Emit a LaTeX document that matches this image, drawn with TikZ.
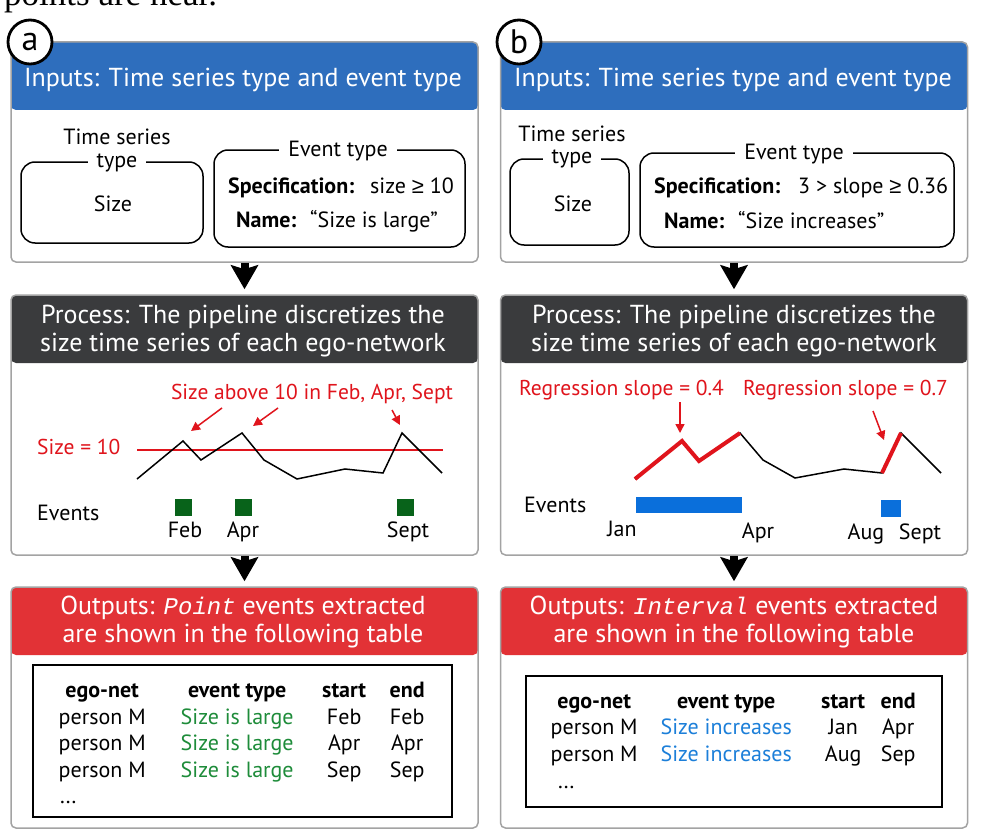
\documentclass[tikz,border=0pt]{standalone}
\usepackage{fontspec,array}
\setmainfont{PT Sans}
\setmonofont{Liberation Mono}
\newfontfamily\symfont{Liberation Sans}
\newfontfamily\paperfont{Liberation Serif}
\usetikzlibrary{arrows.meta}
\definecolor{headBlue}{HTML}{2E6EBD}
\definecolor{headDark}{HTML}{3A3B3D}
\definecolor{headRed}{HTML}{E23236}
\definecolor{panelGray}{HTML}{A3A3A3}
\definecolor{markRed}{HTML}{E0141C}
\definecolor{evGreen}{HTML}{08631A}
\definecolor{txtGreen}{HTML}{1E8C3A}
\definecolor{evBlue}{HTML}{0A6FDB}
\definecolor{txtBlue}{HTML}{1C7FD9}
\tikzset{
    panel/.style={draw=panelGray,fill=white,line width=1.5pt,rounded corners=5pt,
        minimum width=467pt,inner sep=0pt},
    headed/.style={panel,path picture={\fill[#1] (path picture bounding box.north west)
        rectangle ([yshift=-68pt]path picture bounding box.north east);}},
    headtext/.style={text=white,align=center,inner sep=0pt,
        font=\fontsize{26}{28}\selectfont},
    tag/.style={circle,draw=black,fill=white,line width=2.8pt,minimum size=44pt,
        inner sep=0pt,font=\fontsize{34}{34}\selectfont},
    field/.style={draw=black,line width=1.5pt,rounded corners=14pt,inner sep=0pt},
    txt/.style={inner sep=0pt,font=\fontsize{22}{26.8}\selectfont},
    fieldtitle/.style={txt,fill=white,inner xsep=9pt,inner ysep=2pt},
    redtxt/.style={txt,text=markRed,font=\fontsize{21.5}{26}\selectfont},
    stepdown/.style={line width=8pt,-{Stealth[length=24pt,width=27pt,inset=4pt]},
        shorten >=5pt},
    redarrow/.style={draw=markRed,line width=1.5pt,-{Triangle[length=9pt,width=9pt]}},
    series/.style={draw=black,line width=1.5pt},
    redseries/.style={draw=markRed,line width=4pt},
    evsq/.style={inner sep=0pt,minimum width=17pt,minimum height=17pt},
    tabbox/.style={draw=black,line width=1.5pt,inner sep=0pt}
}

\begin{document}
\begin{tikzpicture}[x=1pt,y=-1pt]
    \path[use as bounding box,fill=white] (0,0) rectangle (982,832);
    \node[anchor=base west,inner sep=0pt,font=\paperfont\fontsize{35}{35}\selectfont]
        (paperline) at (4,6) {points are near.};

    % 三行面板：输入、处理、输出
    \node[headed=headBlue,minimum height=220pt] (inA) at (244.5,152) {};
    \node[headed=headBlue,minimum height=220pt] (inB) at (734,152) {};
    \node[headed=headDark,minimum height=260pt] (procA) at (244.5,425) {};
    \node[headed=headDark,minimum height=260pt] (procB) at (734,425) {};
    \node[headed=headRed,minimum height=241pt] (outA) at (244.5,707.5) {};
    \node[headed=headRed,minimum height=241pt] (outB) at (734,707.5) {};

    \draw[stepdown] (inA.south) -- (procA.north);
    \draw[stepdown] (procA.south) -- (outA.north);
    \draw[stepdown] (inB.south) -- (procB.north);
    \draw[stepdown] (procB.south) -- (outB.north);

    \node[tag] (tagA) at (30,42) {a};
    \node[tag] (tagB) at (519,42) {b};

    % (a) 输入
    \node[headtext,anchor=base] (inAhead) at (243,87) {Inputs: Time series type and event type};
    \node[field,minimum width=182pt,minimum height=81pt] (tsA) at (112,202.5) {};
    \node[txt,anchor=base] (tsAtitle) at (117,144) {Time series};
    \node[fieldtitle,anchor=base] (tsAtype) at (117,167) {type};
    \node[txt,anchor=base] (tsAval) at (113,211) {Size};
    \node[field,minimum width=251pt,minimum height=97pt] (evA) at (339.5,198.5) {};
    \node[fieldtitle,anchor=base] (evAtitle) at (338,156) {Event type};
    \node[txt,anchor=base west] (specA) at (228,193) {\bfseries Specification:};
    \node[txt,anchor=base west] (specAval) at (370,193) {size {\symfont ≥} 10};
    \node[txt,anchor=base west] (nameA) at (236,227) {\bfseries Name:};
    \node[txt,anchor=base west] (nameAval) at (310,227) {“Size is large”};

    % (b) 输入
    \node[headtext,anchor=base] (inBhead) at (733,87) {Inputs: Time series type and event type};
    \node[field,minimum width=119pt,minimum height=86pt] (tsB) at (569.5,202) {};
    \node[txt,anchor=base] (tsBtitle) at (572,142) {Time series};
    \node[fieldtitle,anchor=base] (tsBtype) at (572,163) {type};
    \node[txt,anchor=base] (tsBval) at (573,211) {Size};
    \node[field,minimum width=314pt,minimum height=94pt] (evB) at (797,200) {};
    \node[fieldtitle,anchor=base] (evBtitle) at (794,159) {Event type};
    \node[txt,anchor=base west] (specB) at (654,193) {\bfseries Specification:};
    \node[txt,anchor=base west] (specBval) at (798,193) {3 > slope {\symfont ≥} 0.36};
    \node[txt,anchor=base west] (nameB) at (664,228) {\bfseries Name:};
    \node[txt,anchor=base west] (nameBval) at (738,228) {“Size increases”};

    % (a) 处理：阈值折线
    \node[headtext] (procAhead) at (243,331.5)
        {Process: The pipeline discretizes the\\size time series of each ego-network};
    \node[redtxt,anchor=base] (aboveA) at (312,399) {Size above 10 in Feb, Apr, Sept};
    \node[redtxt,anchor=base west] (threshA) at (37,454) {Size = 10};
    \draw[draw=markRed,line width=1.5pt] (137,450) -- (443,450);
    \draw[series] (137,479) -- (183,441) -- (201,460) -- (242,433) -- (264,460)
        -- (297,479) -- (345,469) -- (383,473) -- (402,433) -- (442,473);
    \coordinate (tailA1) at (222,408);
    \coordinate (tailA2) at (278,408);
    \coordinate (tailA3) at (392,410);
    \coordinate (peakA1) at (191,431);
    \coordinate (peakA2) at (253,426);
    \coordinate (peakA3) at (400,425);
    \draw[redarrow] (tailA1) -- (peakA1);
    \draw[redarrow] (tailA2) -- (peakA2);
    \draw[redarrow] (tailA3) -- (peakA3);
    \node[txt,anchor=base west] (eventsA) at (37,520) {Events};
    \node[evsq,fill=evGreen] (sqA1) at (183.5,507) {};
    \node[evsq,fill=evGreen] (sqA2) at (243.5,507) {};
    \node[evsq,fill=evGreen] (sqA3) at (405.5,507) {};
    \node[txt,anchor=base] (febA) at (185,537) {Feb};
    \node[txt,anchor=base] (aprA) at (243,537) {Apr};
    \node[txt,anchor=base] (septA) at (408,537) {Sept};

    % (b) 处理：回归斜率
    \node[headtext] (procBhead) at (734,331.5)
        {Process: The pipeline discretizes the\\size time series of each ego-network};
    \node[redtxt,anchor=base] (slopeB1) at (621.5,395) {Regression slope = 0.4};
    \node[redtxt,anchor=base] (slopeB2) at (845.5,395) {Regression slope = 0.7};
    \draw[series] (635,479) -- (682,441) -- (699,461) -- (740,433) -- (763,460)
        -- (795,478) -- (844,469) -- (882,473) -- (901,433) -- (941,473);
    \draw[redseries] (635,479) -- (682,441) -- (699,461) -- (740,433);
    \draw[redseries] (882,473) -- (901,433);
    \coordinate (tailB1) at (680,402);
    \coordinate (tailB2) at (873,411);
    \coordinate (peakB1) at (680,433);
    \coordinate (peakB2) at (884,440);
    \draw[redarrow] (tailB1) -- (peakB1);
    \draw[redarrow] (tailB2) -- (peakB2);
    \node[txt,anchor=base west] (eventsB) at (524,512) {Events};
    \node[evsq,fill=evBlue,minimum width=106pt,minimum height=16pt] (barB1) at (689,505) {};
    \node[evsq,fill=evBlue,minimum width=20pt] (barB2) at (891,508.5) {};
    \node[txt,anchor=base] (janB) at (622,536) {Jan};
    \node[txt,anchor=base] (aprB) at (758,538) {Apr};
    \node[txt,anchor=base] (augB) at (866,539) {Aug};
    \node[txt,anchor=base] (septB) at (920,539) {Sept};

    % 输出表格
    \node[headtext] (outAhead) at (243,622.4)
        {Outputs: {\ttfamily\itshape\fontsize{24}{28}\selectfont Point} events extracted\\are shown in the following table};
    \node[tabbox,minimum width=419pt,minimum height=152pt] (tabA) at (242.5,741) {};
    \node[txt,anchor=north west] (tabArows) at (34.5,678.3)
        {\setlength{\tabcolsep}{0pt}%
        \begin{tabular}{w{c}{135pt}w{c}{135pt}w{c}{79pt}w{c}{47pt}}
        \textbf{ego-net} & \textbf{event type} & \textbf{start} & \textbf{end}\\
        person M & \textcolor{txtGreen}{Size is large} & Feb & Feb\\
        person M & \textcolor{txtGreen}{Size is large} & Apr & Apr\\
        person M & \textcolor{txtGreen}{Size is large} & Sep & Sep
        \end{tabular}};
    \node[txt,anchor=base west] (dotsA) at (60,803) {.\kern1pt.\kern1pt.};

    \node[headtext] (outBhead) at (734,622.4)
        {Outputs: {\ttfamily\itshape\fontsize{24}{28}\selectfont Interval} events extracted\\are shown in the following table};
    \node[tabbox,minimum width=416pt,minimum height=131pt] (tabB) at (734,741.5) {};
    \node[txt,anchor=north west] (tabBrows) at (529,689.2)
        {\setlength{\tabcolsep}{0pt}%
        \begin{tabular}{w{c}{130pt}w{c}{134pt}w{c}{100pt}w{c}{10pt}}
        \textbf{ego-net} & \textbf{event type} & \textbf{start} & \textbf{end}\\
        person M & \textcolor{txtBlue}{Size increases} & Jan & Apr\\
        person M & \textcolor{txtBlue}{Size increases} & Aug & Sep
        \end{tabular}};
    \node[txt,anchor=base west] (dotsB) at (558,788) {.\kern1pt.\kern1pt.};
\end{tikzpicture}
\end{document}
